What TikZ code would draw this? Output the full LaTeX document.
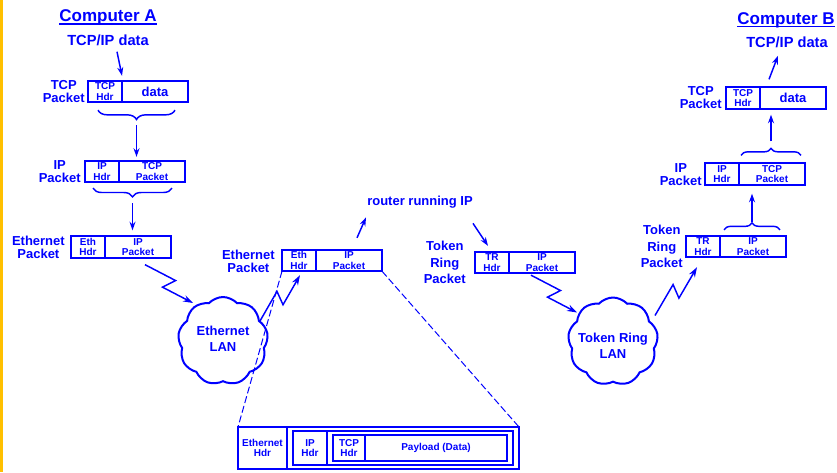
\documentclass[tikz,border=0pt]{standalone}
\usepackage{fontspec}
\setmainfont{Liberation Sans}
\usepackage{tikz}
\usetikzlibrary{positioning, arrows.meta, calc, shapes.symbols, decorations.pathreplacing}

\definecolor{netblue}{RGB}{0,0,255}
\definecolor{edgeyellow}{RGB}{255,192,0}

\tikzset{
  cell/.style={draw=netblue, line width=1.5pt, inner sep=0pt, outer sep=0pt, minimum height=16pt, align=center, text=netblue, font=\fontsize{7.5}{8}\selectfont\bfseries},
  hdrcell/.style={cell, minimum width=25.5pt},
  bodycell/.style={cell, minimum width=49.5pt},
  bigtxt/.style={font=\fontsize{9.75}{9.75}\selectfont\bfseries},
  lbl/.style={inner sep=0pt, align=center, text=netblue, font=\fontsize{9.75}{9.75}\selectfont\bfseries},
  heading/.style={inner sep=0pt, text=netblue, font=\fontsize{12.75}{14}\selectfont\bfseries},
  datatxt/.style={inner sep=0pt, text=netblue, font=\fontsize{11}{12}\selectfont\bfseries},
  arr/.style={draw=netblue, line width=1.1pt, -{Stealth[length=6.5pt,width=4.5pt]}},
  zap/.style={draw=netblue, line width=1.1pt, -{Stealth[length=7.5pt,width=5pt]},
    to path={-- ($(\tikztostart)!.55!(\tikztotarget)!5pt!-90:(\tikztotarget)$)
             -- ($(\tikztostart)!.45!(\tikztotarget)!5pt!90:(\tikztotarget)$)
             -- (\tikztotarget)}},
  curly/.style={draw=netblue, line width=1.1pt, decorate, decoration={brace, amplitude=#1}},
  lan/.style={cloud, cloud puffs=9, cloud puff arc=95, aspect=1, draw=netblue, line width=1.5pt, minimum width=67.5pt, minimum height=66pt, inner sep=0pt},
  zoomline/.style={draw=netblue, line width=0.75pt, dash pattern=on 5.25pt off 2.25pt}
}

\begin{document}
\begin{tikzpicture}[x=0.75pt,y=0.75pt,yscale=-1,xscale=1]
    \useasboundingbox (0,0) rectangle (837,472);
    %Shape: Rectangle (margin bar)
    \fill[edgeyellow] (0,0) rectangle (3,472);

    % ---- Computer A ----
    % Text Node
    \node[heading, anchor=base] (compA) at (108,21.5) {Computer A};
    \draw[netblue, line width=1pt] ($(compA.base west)+(0,2.5)$) -- ($(compA.base east)+(0,2.5)$);
    % Text Node
    \node[datatxt] (dataA) at (108,40) {TCP/IP data};

    %Shape: TCP packet
    \node[hdrcell] (tcpAh) at (105,91.5) {TCP\\Hdr};
    \node[bodycell, bigtxt, right=0pt of tcpAh] (tcpAb) {data};
    \node[lbl, anchor=east] (tcpAl) at (85,92) {TCP\\Packet};
    %Shape: IP packet
    \node[hdrcell] (ipAh) at (102,171.5) {IP\\Hdr};
    \node[bodycell, right=0pt of ipAh] (ipAb) {TCP\\Packet};
    \node[lbl, anchor=east] (ipAl) at (81,172) {IP\\Packet};
    %Shape: Ethernet packet
    \node[hdrcell] (ethAh) at (88,247) {Eth\\Hdr};
    \node[bodycell, right=0pt of ethAh] (ethAb) {IP\\Packet};
    \node[lbl, anchor=east] (ethAl) at (65,247) {Ethernet\\Packet};

    %Curly braces
    \coordinate (bA1l) at ($(tcpAh.south west)+(10,8)$);
    \coordinate (bA1r) at ($(tcpAb.south east)+(-13,8)$);
    \draw[curly=7pt] (bA1r) -- (bA1l);
    \coordinate (tipA1) at ($(bA1l)!.5!(bA1r)+(0,10)$);
    \coordinate (bA2l) at ($(ipAh.south west)+(8,6)$);
    \coordinate (bA2r) at ($(ipAb.south east)+(-13,6)$);
    \draw[curly=6.5pt] (bA2r) -- (bA2l);
    \coordinate (tipA2) at ($(bA2l)!.5!(bA2r)+(0,9)$);

    %Straight Lines
    \draw[arr] ($(dataA.south)+(9,6)$) -- ($(tcpAh.north east)+(0,-5)$);
    \draw[arr, shorten <=3.75pt, shorten >=3pt] (tipA1) -- (tipA1 |- ipAb.north);
    \draw[arr, shorten <=4.5pt, shorten >=4.5pt] (tipA2) -- (tipA2 |- ethAb.north);

    % ---- Ethernet LAN ----
    \node[lan] (lanA) at (223,341) {};
    \node[lbl, font=\fontsize{9.75}{12}\selectfont\bfseries] (lanAt) at (223,339) {Ethernet\\LAN};

    %Shape: Ethernet packet at router
    \node[hdrcell] (ethMh) at (299,260.5) {Eth\\Hdr};
    \node[bodycell, right=0pt of ethMh] (ethMb) {IP\\Packet};
    \node[lbl, anchor=east] (ethMl) at (275,261) {Ethernet\\Packet};

    % Text Node
    \node[lbl] (router) at (420,202) {router running IP};

    %Shape: Token Ring packet at router
    \node[hdrcell] (trMh) at (492,262.5) {TR\\Hdr};
    \node[bodycell, right=0pt of trMh] (trMb) {IP\\Packet};
    \node[lbl, anchor=east, font=\fontsize{9.75}{12.5}\selectfont\bfseries] (trMl) at (466,262.5) {Token\\Ring\\Packet};

    \draw[arr] ($(ethMb.north)+(8,-12)$) -- ($(router.south west)+(-1,9)$);
    \draw[arr] ($(router.south east)+(0,15)$) -- ($(trMh.north)+(-4,-6)$);

    % ---- Token Ring LAN ----
    \node[lan] (lanB) at (613,341.5) {};
    \node[lbl, font=\fontsize{9.75}{12}\selectfont\bfseries] (lanBt) at (613,346) {Token Ring\\LAN};

    % ---- Computer B ----
    %Shape: Token Ring packet
    \node[hdrcell] (trBh) at (703,246.5) {TR\\Hdr};
    \node[bodycell, right=0pt of trBh] (trBb) {IP\\Packet};
    \node[lbl, anchor=east, font=\fontsize{9.75}{12.5}\selectfont\bfseries] (trBl) at (683,246.5) {Token\\Ring\\Packet};
    %Shape: IP packet
    \node[hdrcell] (ipBh) at (722,174) {IP\\Hdr};
    \node[bodycell, right=0pt of ipBh] (ipBb) {TCP\\Packet};
    \node[lbl, anchor=east] (ipBl) at (702,175) {IP\\Packet};
    %Shape: TCP packet
    \node[hdrcell] (tcpBh) at (743,98) {TCP\\Hdr};
    \node[bodycell, bigtxt, right=0pt of tcpBh] (tcpBb) {data};
    \node[lbl, anchor=east] (tcpBl) at (722,98) {TCP\\Packet};

    % Text Node
    \node[datatxt] (dataB) at (787,42) {TCP/IP data};
    \node[heading, anchor=base] (compB) at (786,24) {Computer B};
    \draw[netblue, line width=1pt] ($(compB.base west)+(0,2.5)$) -- ($(compB.base east)+(0,2.5)$);

    %Curly braces
    \coordinate (bB1l) at ($(trBb.north west)+(4,-6)$);
    \coordinate (bB1r) at ($(trBb.north east)+(-6,-6)$);
    \draw[curly=5.25pt] (bB1l) -- (bB1r);
    \coordinate (tipB1) at ($(bB1l)!.5!(bB1r)+(0,-7)$);
    \coordinate (bB2l) at ($(ipBb.north west)+(2,-8)$);
    \coordinate (bB2r) at ($(ipBb.north east)+(-4,-8)$);
    \draw[curly=5.25pt] (bB2l) -- (bB2r);
    \coordinate (tipB2) at ($(bB2l)!.5!(bB2r)+(0,-7)$);

    \draw[arr, shorten <=0.75pt, shorten >=6.75pt] (tipB1) -- (tipB1 |- ipBb.south);
    \draw[arr, shorten <=5.25pt, shorten >=4.5pt] (tipB2) -- (tipB2 |- tcpBb.south);
    \draw[arr] ($(tcpBb.north west)+(9,-8)$) -- ($(dataB.south)+(-9,8)$);

    % ---- Lightning links ----
    \coordinate (z1s) at ($(ethAb.south)+(7,7)$);
    \coordinate (z1e) at ($(lanA.center)+(-30,-38)$);
    \draw[zap] (z1s) to (z1e);
    \coordinate (z2s) at ($(lanA.center)+(37,-20)$);
    \coordinate (z2e) at ($(ethMh.south)+(1,4)$);
    \draw[zap] (z2s) to (z2e);
    \coordinate (z3s) at ($(trMb.south)+(-11,2)$);
    \coordinate (z3e) at ($(lanB.center)+(-36,-29)$);
    \draw[zap] (z3s) to (z3e);
    \coordinate (z4s) at ($(lanB.center)+(42,-26)$);
    \coordinate (z4e) at ($(trBh.south)+(-6,10)$);
    \draw[zap] (z4s) to (z4e);

    % ---- Ethernet frame detail ----
    \node[cell, minimum width=36.75pt, minimum height=31.5pt] (frmEthH) at (262.5,448) {Ethernet\\Hdr};
    \node[cell, minimum width=174pt, minimum height=31.5pt, right=0pt of frmEthH] (frmEthB) {};
    \node[cell, minimum width=25.5pt, minimum height=25.5pt] (frmIpH) at (310,448) {IP\\Hdr};
    \node[cell, minimum width=139.5pt, minimum height=25.5pt, right=0pt of frmIpH] (frmIpB) {};
    \node[cell, minimum width=24pt, minimum height=19.5pt] (frmTcpH) at (349,448) {TCP\\Hdr};
    \node[cell, minimum width=106.5pt, minimum height=19.5pt, right=0pt of frmTcpH] (frmPay) {Payload (Data)};

    %Dashed Lines
    \draw[zoomline] (ethMh.south west) -- (frmEthH.north west);
    \draw[zoomline] (ethMb.south east) -- (frmEthB.north east);
\end{tikzpicture}
\end{document}
